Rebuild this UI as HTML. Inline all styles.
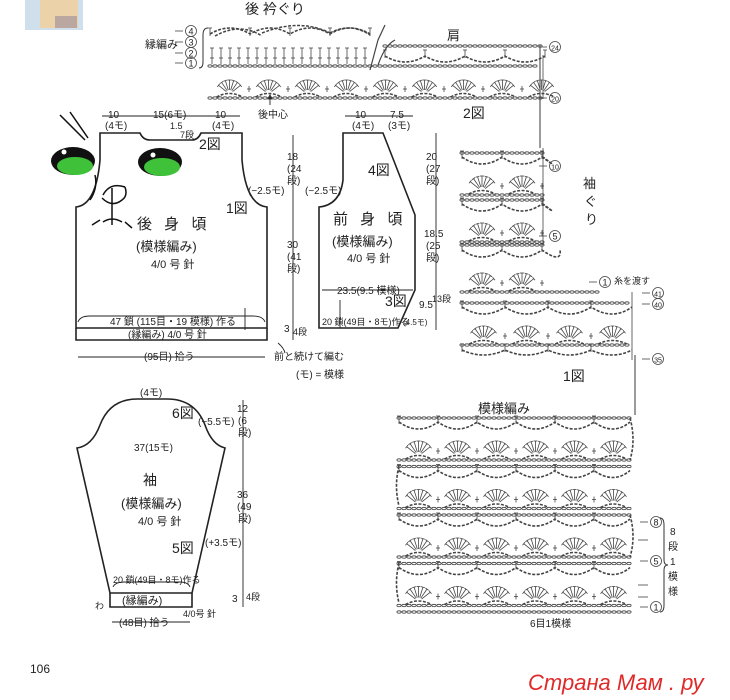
<!DOCTYPE html>
<html><head><meta charset="utf-8"><style>
html,body{margin:0;padding:0;background:#fff;width:730px;height:700px;overflow:hidden}
svg{display:block}
text{font-family:"Liberation Sans","Noto Sans CJK JP",sans-serif;fill:#222}
</style></head><body>
<svg id="s" width="730" height="700" viewBox="0 0 730 700" xmlns="http://www.w3.org/2000/svg">
<rect x="25" y="0" width="58" height="30" fill="#cfe0ec"/>
<rect x="40" y="0" width="38" height="28" fill="#ecd2a8"/>
<rect x="55" y="16" width="22" height="12" fill="#b9a7a0"/>
<g id="shapes" fill="none" stroke="#222" stroke-width="1.6">
<path d="M100,133 L140,133 Q143,140 150,140 L192,140 Q198,140 201,133 L242,133 L242,160 Q246,205 267,207 L267,328 L76,328 L76,207 Q96,205 100,160 Z"/>
<path d="M76,328 L76,340 L267,340 L267,328"/>
<path d="M343,133 L383,133 L415,215 L415,290 L398,328 L319,328 L319,207 Q340,205 343,180 Z"/>
<path d="M137,399 L167,399 Q195,399 205,425 Q212,445 225,448 L192,593 L110,593 L77,448 Q92,446 100,425 Q110,399 137,399 Z"/>
<path d="M110,593 L110,607 L192,607 L192,593"/>
</g>
<g stroke="#222" stroke-width="0.9" fill="none">
<line x1="293" y1="135" x2="293" y2="340"/>
<line x1="436" y1="133" x2="436" y2="330"/>
<line x1="243" y1="400" x2="243" y2="607"/>
<line x1="78" y1="357" x2="265" y2="357"/>
<line x1="112" y1="622" x2="190" y2="622"/>
<line x1="102" y1="116" x2="240" y2="116"/>
<line x1="345" y1="116" x2="413" y2="116"/>
<line x1="322" y1="290" x2="413" y2="290"/>
<line x1="540" y1="45" x2="540" y2="148"/>
<line x1="635" y1="355" x2="635" y2="415"/>
<line x1="270" y1="95" x2="270" y2="105"/>
<path d="M270,95 l-2,4 h4 z" fill="#222"/>
<path d="M78,322 Q80,316 90,316 L253,316 Q263,316 265,322"/>
<path d="M113,587 Q115,582 125,582 L180,582 Q188,582 190,587"/>
<line x1="245" y1="308" x2="245" y2="330"/>
<line x1="340" y1="300" x2="340" y2="328"/>
<path d="M278,343 Q284,348 285,353"/>
</g>
<g>
<ellipse cx="73" cy="161" rx="22" ry="14" fill="#111"/>
<ellipse cx="75" cy="166" rx="18" ry="9" fill="#3fc23a"/>
<circle cx="64" cy="152" r="2.5" fill="#fff"/>
<ellipse cx="160" cy="162" rx="22" ry="14" fill="#111"/>
<ellipse cx="162" cy="167" rx="18" ry="9" fill="#3fc23a"/>
<circle cx="153" cy="155" r="2.5" fill="#fff"/>
<g stroke="#111" stroke-width="1.5" fill="none">
<path d="M60,115 L85,140 M70,112 L88,138"/>
<path d="M103,195 Q110,182 125,187 M102,198 Q112,208 122,200 Q128,196 125,187"/>
<path d="M112,188 L112,225 M103,222 Q112,216 122,222 M92,225 L100,220 M125,222 L132,228"/>
<path d="M95,175 Q98,188 90,200"/>
</g></g>
<g id="charts" stroke="#444" fill="none" stroke-width="0.8"></g>
<g font-size="11">
<text x="245" y="14" font-size="14">後 衿ぐり</text>
<text x="145" y="48" font-size="11">縁編み</text>
<text x="447" y="40" font-size="13">肩</text>
<text x="463" y="118" font-size="14">2図</text>
<text x="199" y="149" font-size="14">2図</text>
<text x="226" y="213" font-size="14">1図</text>
<text x="368" y="175" font-size="14">4図</text>
<text x="385" y="306" font-size="14">3図</text>
<text x="563" y="381" font-size="14">1図</text>
<text x="172" y="418" font-size="14">6図</text>
<text x="172" y="553" font-size="14">5図</text>
<text x="137" y="229" font-size="15" letter-spacing="4">後 身 頃</text>
<text x="136" y="251" font-size="13">(模様編み)</text>
<text x="151" y="268" font-size="11">4/0 号 針</text>
<text x="333" y="224" font-size="15" letter-spacing="4">前 身 頃</text>
<text x="332" y="246" font-size="13">(模様編み)</text>
<text x="347" y="262" font-size="11">4/0 号 針</text>
<text x="143" y="485" font-size="14">袖</text>
<text x="121" y="508" font-size="13">(模様編み)</text>
<text x="138" y="525" font-size="11">4/0 号 針</text>
<text x="110" y="325" font-size="10">47 鎖 (115目・19 模様) 作る</text>
<text x="128" y="338" font-size="10">(縁編み)  4/0 号 針</text>
<text x="144" y="360" font-size="10">(95目) 拾う</text>
<text x="274" y="360" font-size="10">前と続けて編む</text>
<text x="296" y="378" font-size="10">(モ) = 模様</text>
<text x="108" y="118" font-size="10">10</text><text x="105" y="129" font-size="10">(4モ)</text>
<text x="153" y="118" font-size="10">15(6モ)</text>
<text x="170" y="129" font-size="9">1.5</text><text x="180" y="138" font-size="9">7段</text>
<text x="215" y="118" font-size="10">10</text><text x="212" y="129" font-size="10">(4モ)</text>
<text x="258" y="118" font-size="10">後中心</text>
<text x="355" y="118" font-size="10">10</text><text x="352" y="129" font-size="10">(4モ)</text>
<text x="390" y="118" font-size="10">7.5</text><text x="388" y="129" font-size="10">(3モ)</text>
<text x="248" y="194" font-size="10">(−2.5モ)</text>
<text x="305" y="194" font-size="10">(−2.5モ)</text>
<text x="287" y="160" font-size="10">18</text><text x="287" y="172" font-size="10">(24</text><text x="287" y="184" font-size="10">段)</text>
<text x="287" y="248" font-size="10">30</text><text x="287" y="260" font-size="10">(41</text><text x="287" y="272" font-size="10">段)</text>
<text x="284" y="332" font-size="10">3</text><text x="293" y="335" font-size="9">4段</text>
<text x="426" y="160" font-size="10">20</text><text x="426" y="172" font-size="10">(27</text><text x="426" y="184" font-size="10">段)</text>
<text x="424" y="237" font-size="10">18.5</text><text x="426" y="249" font-size="10">(25</text><text x="426" y="261" font-size="10">段)</text>
<text x="419" y="308" font-size="10">9.5</text><text x="432" y="302" font-size="9">13段</text>
<text x="337" y="294" font-size="10">23.5(9.5 模様)</text>
<text x="322" y="325" font-size="9">20 鎖(49目・8モ)作る</text>
<text x="403" y="325" font-size="8">(4.5モ)</text>
<text x="140" y="396" font-size="10">(4モ)</text>
<text x="198" y="425" font-size="10">(−5.5モ)</text>
<text x="134" y="451" font-size="10">37(15モ)</text>
<text x="237" y="412" font-size="10">12</text><text x="238" y="424" font-size="10">(6</text><text x="238" y="436" font-size="10">段)</text>
<text x="237" y="498" font-size="10">36</text><text x="237" y="510" font-size="10">(49</text><text x="238" y="522" font-size="10">段)</text>
<text x="205" y="546" font-size="10">(+3.5モ)</text>
<text x="232" y="602" font-size="10">3</text><text x="246" y="600" font-size="9">4段</text>
<text x="113" y="583" font-size="9">20 鎖(49目・8モ)作る</text>
<text x="122" y="604" font-size="11">(縁編み)</text>
<text x="95" y="609" font-size="9">わ</text>
<text x="183" y="617" font-size="9">4/0号 針</text>
<text x="119" y="626" font-size="10">(48目) 拾う</text>
<text x="583" y="188" font-size="13">袖</text>
<text x="584" y="206" font-size="13">ぐ</text>
<text x="585" y="224" font-size="13">り</text>
<text x="614" y="284" font-size="9">糸を渡す</text>
<text x="478" y="413" font-size="13">模様編み</text>
<text x="530" y="627" font-size="10">6目1模様</text>
<text x="670" y="535" font-size="10">8</text><text x="668" y="550" font-size="10">段</text><text x="670" y="565" font-size="10">1</text><text x="668" y="580" font-size="10">模</text><text x="668" y="595" font-size="10">様</text>
<text x="30" y="673" font-size="12">106</text>
<text x="528" y="690" font-size="22" font-family="Liberation Serif,serif" font-style="italic" style="fill:#e02a2a">Страна Мам . ру</text>
</g>
<path d="M660,518 Q664,518 664,525 L664,560 Q664,565 668,565 Q664,565 664,570 L664,605 Q664,612 660,612" stroke="#333" fill="none"/>
<path d="M208,28 Q203,28 203,35 L203,62 Q203,68 199,68" stroke="#333" fill="none"/>
</svg>
<script>
const g=document.getElementById('charts');const NS='http://www.w3.org/2000/svg';
function el(t,a){const e=document.createElementNS(NS,t);for(const k in a)e.setAttribute(k,a[k]);g.appendChild(e);return e;}
function chain(x1,x2,y){for(let x=x1;x<x2;x+=5){el('ellipse',{cx:x,cy:y,rx:2.1,ry:1.2});}}
function arcs(x1,x2,y,p,d){let s='M'+x1+','+y;for(let x=x1;x<x2;x+=p){const e=Math.min(x+p,x2);s+=' Q'+(x+p/2)+','+(y+d*2)+' '+e+','+y;}
 el('path',{d:s,'stroke-width':1.6,'stroke-dasharray':'3 1.5'});
 for(let x=x1;x<=x2;x+=p){el('line',{x1:x,y1:y-6,x2:x,y2:y+2});el('line',{x1:x-2,y1:y-6,x2:x+2,y2:y-6});}}
function fans(x1,x2,yb,p,h){for(let x=x1+p/2;x<x2;x+=p){for(let i=-3;i<=3;i++){const a=i*0.3;const ex=x+Math.sin(a)*h,ey=yb-Math.cos(a)*h;
 el('line',{x1:x+Math.sin(a)*4,y1:yb-Math.cos(a)*4,x2:ex,y2:ey});el('line',{x1:ex-2*Math.cos(a),y1:ey-2*Math.sin(a),x2:ex+2*Math.cos(a),y2:ey+2*Math.sin(a)});}
 const cx=x+p/2;if(cx<x2){el('line',{x1:cx,y1:yb-8,x2:cx,y2:yb-2});el('line',{x1:cx-2,y1:yb-5,x2:cx+2,y2:yb-5});}
 el('path',{d:'M'+(x-p/3)+','+(yb+3)+' Q'+x+','+(yb-4)+' '+(x+p/3)+','+(yb+3),'stroke-width':1.5,'stroke-dasharray':'3 1.5'});}}
function unit(x1,x2,y,p){chain(x1,x2,y);arcs(x1,x2,y+4,p,7);fans(x1,x2,y+38,p,15);chain(x1,x2,y+42);}
function circ(x,y,n){el('circle',{cx:x,cy:y,r:5.5});const t=el('text',{x:x,y:y+3.5,'text-anchor':'middle','font-size':n.length>1?7:9,stroke:'none'});t.textContent=n;
 el('line',{x1:x-16,y1:y,x2:x-8,y2:y});}
for(let k=0;k<4;k++)unit(399,630,418+k*48.5,39);chain(399,630,612);
el('path',{d:'M630,418 Q636,440 630,460 M399,466 Q394,486 399,506 M630,515 Q636,537 630,557 M399,563 Q394,583 399,603','stroke-width':1.6,'stroke-dasharray':'3 1.5'});
circ(656,522,'8');circ(656,561,'5');circ(656,607,'1');
[540,585,597].forEach(y=>el('line',{x1:638,y1:y,x2:648,y2:y}));
unit(462,543,153,40);unit(462,543,200,40);chain(462,543,245);
arcs(462,560,250,40,7);fans(462,560,288,40,15);chain(462,600,292);
unit(462,632,303,43);arcs(462,632,350,43,5);
el('line',{x1:543,y1:148,x2:543,y2:245});el('line',{x1:632,y1:292,x2:632,y2:360});
circ(555,166,'10');circ(555,236,'5');circ(605,282,'1');circ(658,293,'41');circ(658,304,'40');circ(658,359,'35');
chain(210,540,66);
for(let x=212;x<372;x+=9){el('line',{x1:x,y1:64,x2:x,y2:48});el('line',{x1:x-2,y1:48,x2:x+2,y2:48});el('line',{x1:x-2,y1:58,x2:x+2,y2:58});}
arcs(210,370,34,40,-6);
el('path',{d:'M215,36 Q240,22 262,36 M262,33 Q300,18 330,33 M330,33 Q350,22 370,35','stroke-width':1.5,'stroke-dasharray':'3 1.5'});
el('path',{d:'M370,70 L378,40 L385,25 M378,65 Q385,45 395,40','stroke-width':1.2});
chain(385,545,46);arcs(385,545,56,40,6);
fans(210,545,94,39,14);chain(210,545,98);
el('line',{x1:543,y1:55,x2:543,y2:99});
circ(555,47,'24');circ(555,98,'20');
[31,42,53,63].forEach((y,i)=>circ(191,y,String(4-i)));
</script>
</body></html>
